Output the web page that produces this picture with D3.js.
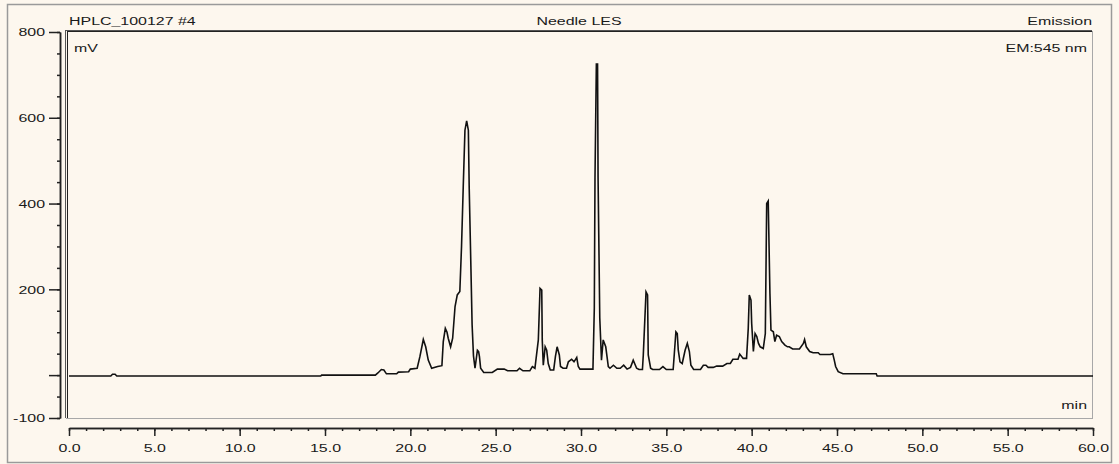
<!DOCTYPE html>
<html>
<head>
<meta charset="utf-8">
<script src="https://cdn.jsdelivr.net/npm/d3@7"></script>
<style>
  html, body { margin: 0; padding: 0; background: #ffffff; }
  svg { display: block; }
  text { font-family: "Liberation Sans", Arial, sans-serif; font-size: 11px; fill: #1a1a1a; }
</style>
</head>
<body>
<svg id="chart" width="1119" height="464"></svg>
<script>
// Retention time (min) and detector signal (mV) of the emission trace
const retentionTimes = [
  0, 2.45, 2.55, 2.7, 2.8, 14.75, 14.8, 17.95, 18.1, 18.3, 18.45, 18.6, 19.2, 19.3, 19.9,
  20.0, 20.4, 20.56, 20.76, 20.9, 21.05, 21.25, 21.6, 21.85, 21.93, 22.05, 22.15, 22.22,
  22.36, 22.48, 22.62, 22.75, 22.9, 23.0, 23.1, 23.2, 23.3, 23.4, 23.45, 23.55, 23.62,
  23.7, 23.79, 23.93, 24.0, 24.05, 24.12, 24.3, 24.8, 25.1, 25.5, 25.7, 26.25, 26.4, 26.6,
  27.0, 27.15, 27.3, 27.5, 27.6, 27.7, 27.73, 27.79, 27.9, 27.99, 28.08, 28.2, 28.4, 28.5,
  28.6, 28.73, 28.8, 28.95, 29.15, 29.26, 29.45, 29.59, 29.75, 29.84, 29.94, 30.7, 30.78,
  30.82, 30.9, 30.97, 31.0, 31.1, 31.2, 31.3, 31.45, 31.6, 31.7, 31.9, 32.1, 32.3, 32.5,
  32.7, 32.9, 33.06, 33.26, 33.4, 33.6, 33.65, 33.81, 33.9, 33.94, 34.08, 34.2, 34.6, 34.8,
  35.0, 35.4, 35.47, 35.56, 35.64, 35.7, 35.8, 35.93, 36.1, 36.23, 36.35, 36.44, 36.6,
  37.0, 37.17, 37.32, 37.45, 37.75, 37.95, 38.3, 38.55, 38.75, 38.9, 39.2, 39.3, 39.5,
  39.7, 39.8, 39.86, 39.96, 40.0, 40.1, 40.2, 40.3, 40.4, 40.5, 40.68, 40.8, 40.88, 40.97,
  41.07, 41.13, 41.27, 41.36, 41.46, 41.62, 41.76, 41.95, 42.1, 42.2, 42.4, 42.8, 43.03,
  43.1, 43.2, 43.4, 43.6, 43.9, 44.0, 44.6, 44.75, 44.84, 44.92, 45.07, 45.35, 47.3,
  47.35, 60
];
const signalMv = [
  -2, -2, 2, 2, -2, -2, 0, 0, 5, 13, 12, 3, 3, 7, 8,
  14, 16, 43, 83, 66, 35, 16, 20, 22, 78, 109, 100, 86,
  66, 86, 160, 187, 195, 300, 439, 571, 593, 571, 436, 250, 117,
  45, 16, 58, 55, 43, 16, 6, 6, 14, 14, 10, 10, 16, 10,
  10, 20, 16, 82, 202, 198, 82, 23, 66, 58, 27, 12, 12, 43,
  66, 47, 20, 16, 16, 31, 37, 31, 41, 20, 14, 14, 156,
  460, 725, 725, 460, 133, 35, 82, 66, 20, 16, 23, 16, 16, 23,
  14, 18, 35, 16, 13, 13, 47, 194, 187, 47, 16, 13, 13, 20,
  13, 13, 51, 101, 97, 58, 31, 27, 58, 74, 55, 23, 13,
  13, 23, 23, 18, 18, 21, 21, 27, 27, 37, 37, 49, 39,
  39, 109, 187, 175, 121, 55, 97, 90, 74, 66, 62, 97, 400, 406,
  191, 105, 101, 78, 93, 90, 78, 70, 66, 66, 61, 61, 74,
  83, 66, 55, 52, 52, 48, 48, 50, 35, 20, 8, 3, 3,
  -2, -2
];

// Axis ticks and labels
const xMajorTicks = [0, 5, 10, 15, 20, 25, 30, 35, 40, 45, 50, 55, 60];
const xMinorTicks = d3.range(0, 61, 1);
const yMajorTicks = [800, 600, 400, 200, 0, -100];
const yLabelledTicks = [800, 600, 400, 200, -100];
const yMinorTicks = d3.range(-100, 801, 50);

// Header and annotation texts
const sampleName = "HPLC_100127 #4";
const programName = "Needle LES";
const detectorName = "Emission";
const channelName = "EM:545 nm";
const yUnit = "mV";
const xUnit = "min";

// the report font is drawn wide: glyphs are stretched horizontally
const TEXT_STRETCH = 1.45;

const svg = d3.select("#chart");

const plot = { left: 66, top: 31, right: 1092, bottom: 418 };
const x = d3.scaleLinear().domain([0, 60]).range([69, 1093]);
const y = d3.scaleLinear().domain([-100, 800]).range([418, 32]);

function label(px, py, anchor, str) {
  return svg.append("text")
    .attr("transform", `translate(${px},${py}) scale(${TEXT_STRETCH},1)`)
    .attr("text-anchor", anchor)
    .text(str);
}

// page background and outer frame
svg.append("rect").attr("x", 0).attr("y", 0).attr("width", 1119).attr("height", 464)
  .attr("fill", "#fdf7ee");
svg.append("rect").attr("x", 7.5).attr("y", 4.5).attr("width", 1104).attr("height", 458)
  .attr("fill", "none").attr("stroke", "#9a9a9a").attr("stroke-width", 1.5);

// sunken plot frame: dark top/left, light bottom/right
svg.append("line").attr("x1", plot.left).attr("x2", plot.right).attr("y1", 30.5).attr("y2", 30.5)
  .attr("stroke", "#555").attr("stroke-width", 1);
svg.append("line").attr("x1", plot.left + 1).attr("x2", plot.right).attr("y1", 31.5).attr("y2", 31.5)
  .attr("stroke", "#222").attr("stroke-width", 1);
svg.append("line").attr("x1", 65.5).attr("x2", 65.5).attr("y1", 30).attr("y2", plot.bottom)
  .attr("stroke", "#555").attr("stroke-width", 1);
svg.append("line").attr("x1", 67.5).attr("x2", 67.5).attr("y1", 31).attr("y2", plot.bottom)
  .attr("stroke", "#222").attr("stroke-width", 1);
svg.append("line").attr("x1", plot.right + 0.5).attr("x2", plot.right + 0.5).attr("y1", 31).attr("y2", plot.bottom + 0.5)
  .attr("stroke", "#a8a8a8").attr("stroke-width", 1);
svg.append("line").attr("x1", plot.left).attr("x2", plot.right + 1).attr("y1", plot.bottom + 0.5).attr("y2", plot.bottom + 0.5)
  .attr("stroke", "#a8a8a8").attr("stroke-width", 1);

// y axis (minor then major ticks)
const yAxisG = svg.append("g").attr("transform", "translate(60,0)");
yAxisG.append("g")
  .call(d3.axisLeft(y).tickValues(yMinorTicks).tickSize(3).tickSizeOuter(0).tickFormat(""));
yAxisG.append("g")
  .call(d3.axisLeft(y).tickValues(yMajorTicks).tickSize(11).tickSizeOuter(0).tickPadding(4)
    .tickFormat(d => yLabelledTicks.includes(d) ? String(d) : ""));
yAxisG.selectAll("path.domain").attr("stroke", "#222").attr("stroke-width", 1.5);
yAxisG.selectAll(".tick line").attr("stroke", "#222").attr("stroke-width", 1.5);
yAxisG.selectAll(".tick text")
  .attr("font-family", null).attr("font-size", null).attr("dy", "0.36em")
  .attr("x", -15 / TEXT_STRETCH)
  .attr("transform", `scale(${TEXT_STRETCH},1)`);

// x axis (minor then major ticks)
const xAxisG = svg.append("g").attr("transform", "translate(0,428)");
xAxisG.append("g")
  .call(d3.axisBottom(x).tickValues(xMinorTicks).tickSize(3).tickSizeOuter(0).tickFormat(""));
xAxisG.append("g")
  .call(d3.axisBottom(x).tickValues(xMajorTicks).tickSize(8).tickSizeOuter(0).tickPadding(8)
    .tickFormat(d3.format(".1f")));
xAxisG.selectAll("path.domain").attr("stroke", "#222").attr("stroke-width", 1.5);
xAxisG.selectAll(".tick line").attr("stroke", "#222").attr("stroke-width", 1.5);
xAxisG.selectAll(".tick text")
  .attr("font-family", null).attr("font-size", null)
  .attr("transform", `scale(${TEXT_STRETCH},1)`);

// chromatogram trace
const trace = retentionTimes.map((t, i) => [t, signalMv[i]]);
const line = d3.line().x(d => x(d[0])).y(d => y(d[1]));
svg.append("path").datum(trace)
  .attr("d", line)
  .attr("fill", "none")
  .attr("stroke", "#111")
  .attr("stroke-width", 1.6)
  .attr("stroke-linejoin", "miter");

// header texts
label(69, 25, "start", sampleName);
label((plot.left + plot.right) / 2, 25, "middle", programName);
label(1092, 25, "end", detectorName);

// in-plot annotations
label(74, 52, "start", yUnit);
label(1087, 52, "end", channelName);
label(1087, 409, "end", xUnit);
</script>
</body>
</html>
